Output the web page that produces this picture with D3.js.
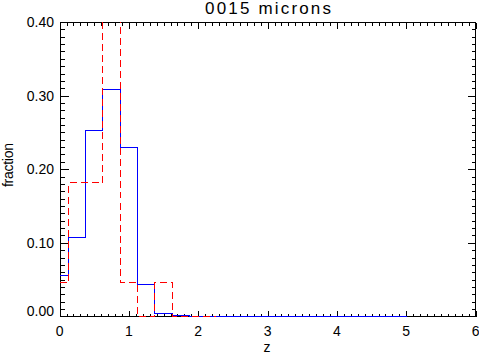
<!DOCTYPE html>
<html><head><meta charset="utf-8">
<script src="https://cdn.jsdelivr.net/npm/d3@7"></script>
<style>
html,body{margin:0;padding:0;background:#fff;}
svg{display:block;}
text{font-family:"Liberation Sans",Arial,sans-serif;fill:#000;}
</style></head>
<body>
<script>
// ---- data ----
const title = "0015 microns";
const xLabel = "z";
const yLabel = "fraction";
const xTicks = [0,1,2,3,4,5,6];
const yTicks = [0.00,0.10,0.20,0.30,0.40];
// bin centres (step 0.25) and fractions
const blueZ = [0,0.25,0.5,0.75,1.0,1.25,1.5,1.75,2.0,2.25,2.5,2.75,3.0,3.25,3.5,3.75,4.0,4.25,4.5,4.75,5.0];
const blueF = [0.055,0.107,0.252,0.308,0.230,0.043,0.0037,0.001,0,0,0,0,0,0,0,0,0,0,0,0,0];
const redZ  = [0,0.25,0.5,0.75,1.0,1.25,1.5,1.75,2.0,2.25];
const redF  = [0.046,0.182,0.182,0.50,0.046,0,0.046,0,0,0];

const W=479,H=355;
const L=60,R=475,T=22,B=316;
const svg=d3.select("body").append("svg").attr("width",W).attr("height",H);
const x=d3.scaleLinear().domain([0,6]).range([59.6,475.6]);
const y=d3.scaleLinear().domain([0,0.40]).range([B+0.4,T]);
const px=v=>Math.floor(x(v))+0.5;
const py=v=>Math.floor(y(v))+0.5;

svg.append("clipPath").attr("id","clip").append("rect")
  .attr("x",L).attr("y",T).attr("width",R-L+1).attr("height",B-T+1);

// axes
const crisp=sel=>sel.selectAll("path,line").attr("stroke","#000").attr("shape-rendering","crispEdges");
const xMinor=d3.range(0,60.5,1).map(v=>v/10);
const yMinor=d3.range(0,40.5,1).map(v=>v/100);
const xs=d3.scaleLinear().domain([0,6]).range([59.6,475.6]);

function axes(){
  const parts=[
    [B,d3.axisTop(x).tickValues(xMinor).tickSize(3)],
    [B,d3.axisTop(x).tickValues(xTicks).tickSize(6)],
    [T,d3.axisBottom(x).tickValues(xMinor).tickSize(3)],
    [T,d3.axisBottom(x).tickValues(xTicks).tickSize(6)]
  ];
  parts.forEach(([p,a])=>{
    const s=svg.append("g").attr("transform",`translate(0,${p+0.5})`).call(a.tickFormat(""));
    crisp(s);s.select(".domain").remove();
  });
  const vparts=[
    [L,d3.axisRight(y).tickValues(yMinor).tickSize(4)],
    [L,d3.axisRight(y).tickValues(yTicks).tickSize(8)],
    [R,d3.axisLeft(y).tickValues(yMinor).tickSize(4)],
    [R,d3.axisLeft(y).tickValues(yTicks).tickSize(8)]
  ];
  vparts.forEach(([p,a])=>{
    const s=svg.append("g").attr("transform",`translate(${p+0.5},0)`).call(a.tickFormat(""));
    crisp(s);s.select(".domain").remove();
  });
}
axes();
svg.append("rect").attr("x",L+0.5).attr("y",T+0.5).attr("width",R-L).attr("height",B-T)
  .attr("fill","none").attr("stroke","#000").attr("shape-rendering","crispEdges");

// histograms (IDL psym=10 style: centred steps, half bins at the ends)
function stepPts(zs,fs){
  const pts=[];
  zs.forEach((z,i)=>{
    const a = i===0 ? z : (zs[i-1]+z)/2;
    const b = i===zs.length-1 ? z : (z+zs[i+1])/2;
    pts.push([a,fs[i]],[b,fs[i]]);
  });
  return pts;
}
const line=d3.line().x(d=>px(d[0])).y(d=>py(d[1]));
const g=svg.append("g").attr("clip-path","url(#clip)");
g.append("path").attr("d",line(stepPts(blueZ,blueF))).attr("fill","none")
  .attr("stroke","#0000ff").attr("stroke-width",1).attr("shape-rendering","crispEdges");
g.append("path").attr("d",line(stepPts(redZ,redF))).attr("fill","none")
  .attr("stroke","#ff0000").attr("stroke-width",1).attr("stroke-dasharray","7,4")
  .attr("shape-rendering","crispEdges");

// tick labels
svg.append("g").selectAll("text").data(xTicks).join("text")
  .attr("x",d=>x(d)).attr("y",336).attr("text-anchor","middle")
  .attr("font-size",14).text(d=>d3.format("d")(d));
svg.append("g").selectAll("text").data(yTicks).join("text")
  .attr("x",54).attr("y",d=>Math.min(y(d)+5,316)).attr("text-anchor","end")
  .attr("font-size",14).text(d=>d3.format(".2f")(d));

// titles
svg.append("text").attr("x",268).attr("y",14).attr("text-anchor","middle")
  .attr("font-size",17).attr("textLength",126).attr("lengthAdjust","spacing").text(title);
svg.append("text").attr("x",267).attr("y",352).attr("text-anchor","middle")
  .attr("font-size",14).text(xLabel);
svg.append("text").attr("transform","translate(13,165) rotate(-90)").attr("text-anchor","middle")
  .attr("font-size",14).attr("textLength",44).attr("lengthAdjust","spacing").text(yLabel);
</script>
</body></html>
